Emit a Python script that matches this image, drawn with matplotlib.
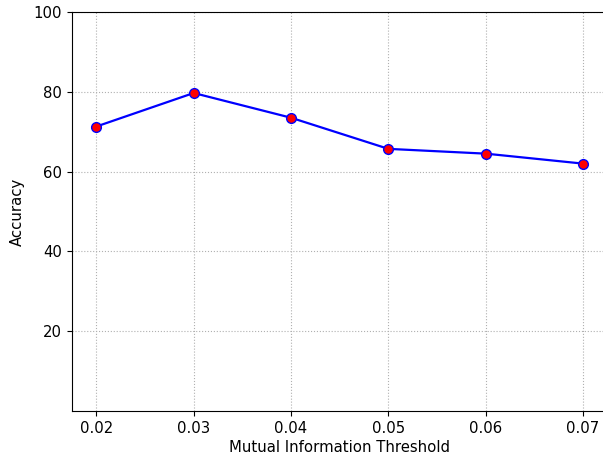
import matplotlib
matplotlib.use("Agg")
import matplotlib.pyplot as plt

thresholds = [0.02, 0.03, 0.04, 0.05, 0.06, 0.07]
accuracy = [71.3, 79.7, 73.5, 65.7, 64.5, 62.0]

plt.rcParams["font.size"] = 10.7

fig = plt.figure(figsize=(6.03, 4.62), dpi=100)
# right edge of the axes falls just outside the image, as in the reference
ax = fig.add_axes([0.1194, 0.1104, 0.888, 0.8636])
ax.plot(thresholds, accuracy, color="blue", linewidth=1.6, marker="o",
        markerfacecolor="red", markeredgecolor="blue", markersize=7)
ax.set_ylim(0, 100)
ax.set_yticks([20, 40, 60, 80, 100])
ax.set_xticks(thresholds)
ax.tick_params(length=3.8)
ax.set_xlabel("Mutual Information Threshold", labelpad=3)
ax.set_ylabel("Accuracy", labelpad=6)
ax.grid(True, linestyle=":", color="#b0b0b0")
fig.savefig("out.png", dpi=100)
